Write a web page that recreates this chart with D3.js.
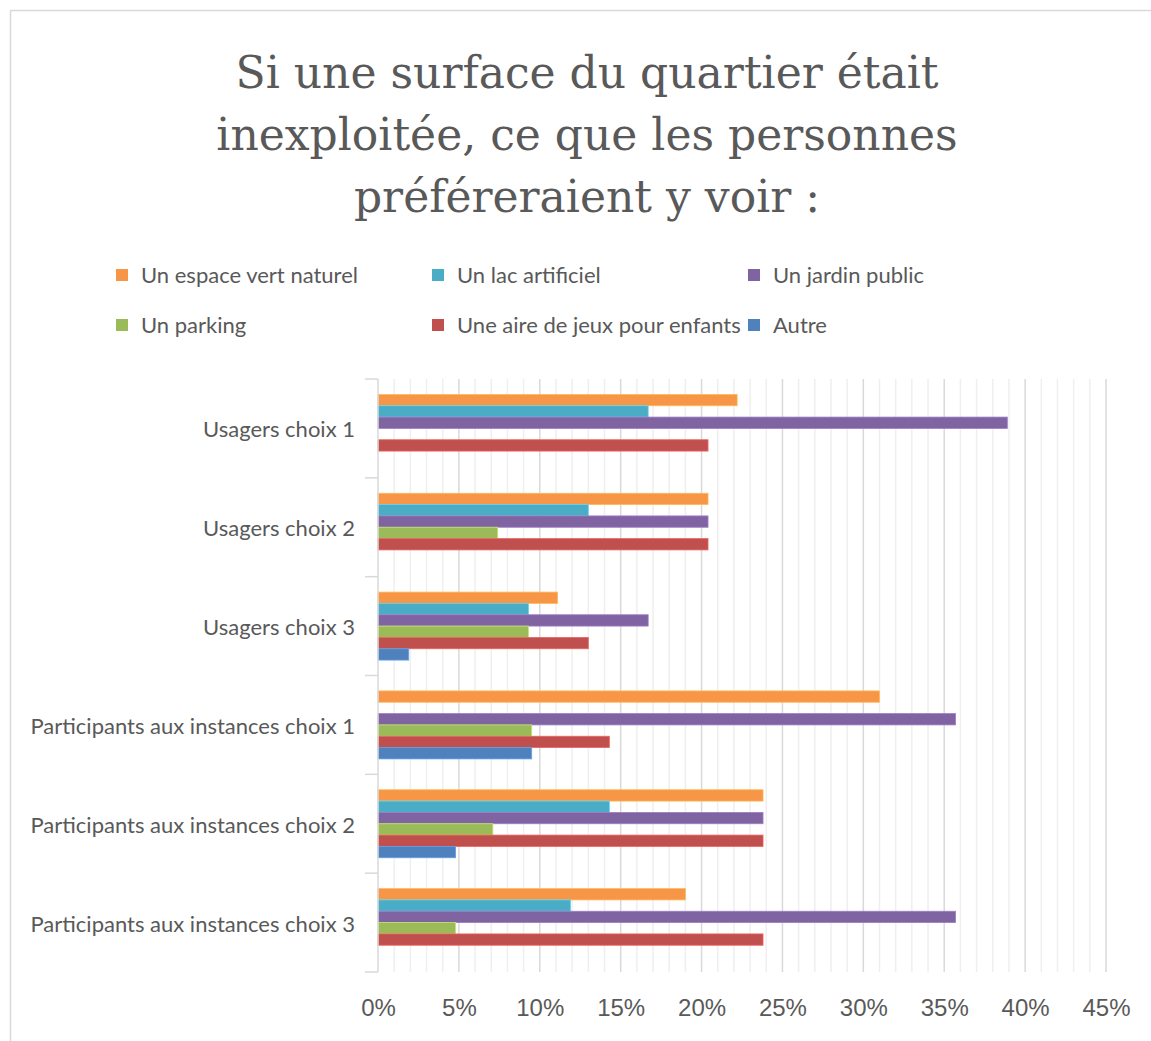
<!DOCTYPE html>
<html>
<head>
<meta charset="utf-8">
<script src="https://cdn.jsdelivr.net/npm/d3@7/dist/d3.min.js"></script>
<style>
  body { margin: 0; background: #fff; }
</style>
</head>
<body>
<svg id="chart"></svg>
<script>
let width = 1151;
let height = 1041;

let titleLines = ['Si une surface du quartier était', 'inexploitée, ce que les personnes', 'préféreraient y voir :'];
let categories = ['Usagers choix 1', 'Usagers choix 2', 'Usagers choix 3',
    'Participants aux instances choix 1', 'Participants aux instances choix 2', 'Participants aux instances choix 3'];
let seriesNames = ['Un espace vert naturel', 'Un lac artificiel', 'Un jardin public',
    'Un parking', 'Une aire de jeux pour enfants', 'Autre'];
let seriesColors = ['#F79646', '#4BACC6', '#8064A2', '#9BBB59', '#C0504D', '#4F81BD'];
// percentages, one array per category, in the order of seriesNames
let usagers1 = [22.2, 16.7, 38.9, 0, 20.4, 0];
let usagers2 = [20.4, 13.0, 20.4, 7.4, 20.4, 0];
let usagers3 = [11.1, 9.3, 16.7, 9.3, 13.0, 1.9];
let participants1 = [31.0, 0, 35.7, 9.5, 14.3, 9.5];
let participants2 = [23.8, 14.3, 23.8, 7.1, 23.8, 4.8];
let participants3 = [19.0, 11.9, 35.7, 4.8, 23.8, 0];
let xTicks = [0, 5, 10, 15, 20, 25, 30, 35, 40, 45];

let values = [usagers1, usagers2, usagers3, participants1, participants2, participants3];
let chartData = [];
categories.forEach((cat, ci) => {
    seriesNames.forEach((s, si) => {
        chartData.push({category: cat, series: s, value: values[ci][si]});
    });
});

let plot = {left: 378, right: 1106, top: 379, bottom: 972};

let svg = d3.select('#chart').attr('width', width).attr('height', height);

// frame
svg.append('rect').attr('x', 10.5).attr('y', 10.5).attr('width', width + 20).attr('height', height + 20)
    .style('fill', '#fff').style('stroke', '#d9d9d9').style('stroke-width', 1.5);

// scales
let xScale = d3.scaleLinear().domain([0, 45]).range([plot.left, plot.right]);
let yScale = d3.scaleBand().domain(categories).range([plot.top, plot.bottom]);
let innerScale = d3.scaleBand().domain(seriesNames).range([0, yScale.bandwidth()]).paddingOuter(1.36);
let colorScale = d3.scaleOrdinal().domain(seriesNames).range(seriesColors);

// gridlines: minor each 1%, major each 5%
svg.append('g').selectAll('line').data(d3.range(1, 46).filter(d => d % 5 !== 0)).enter().append('line')
    .attr('x1', d => xScale(d)).attr('x2', d => xScale(d))
    .attr('y1', plot.top).attr('y2', plot.bottom)
    .style('stroke', '#efefef').style('stroke-width', 1.5);
svg.append('g').selectAll('line').data(xTicks.slice(1)).enter().append('line')
    .attr('x1', d => xScale(d)).attr('x2', d => xScale(d))
    .attr('y1', plot.top).attr('y2', plot.bottom)
    .style('stroke', '#d9d9d9').style('stroke-width', 1.5);

// bars
svg.append('g').selectAll('rect').data(chartData.filter(d => d.value > 0)).enter().append('rect')
    .attr('x', xScale(0))
    .attr('y', d => yScale(d.category) + innerScale(d.series))
    .attr('width', d => xScale(d.value) - xScale(0))
    .attr('height', innerScale.bandwidth())
    .style('fill', d => colorScale(d.series))
    .style('stroke', d => d3.color(colorScale(d.series)).brighter(0.6))
    .style('stroke-width', 0.8);

// vertical axis
let yAxis = svg.append('g').attr('transform', 'translate(' + plot.left + ',2)')
    .call(d3.axisLeft(yScale).tickSize(0).tickPadding(23));
yAxis.select('.domain').remove();
yAxis.selectAll('text').style('font-family', 'Lato, sans-serif').style('font-size', '22px').style('fill', '#595959');
svg.append('line').attr('x1', plot.left).attr('x2', plot.left).attr('y1', plot.top).attr('y2', plot.bottom)
    .style('stroke', '#d9d9d9').style('stroke-width', 1.5);
svg.append('g').selectAll('line').data(categories.concat(['end'])).enter().append('line')
    .attr('x1', plot.left - 13).attr('x2', plot.left)
    .attr('y1', (d, i) => i < categories.length ? yScale(d) : plot.bottom)
    .attr('y2', (d, i) => i < categories.length ? yScale(d) : plot.bottom)
    .style('stroke', '#d9d9d9').style('stroke-width', 1.5);

// horizontal axis labels
let xAxis = svg.append('g').attr('transform', 'translate(0,' + plot.bottom + ')')
    .call(d3.axisBottom(xScale).tickValues(xTicks).tickSize(0).tickPadding(27).tickFormat(d => d + '%'));
xAxis.select('.domain').remove();
xAxis.selectAll('text').style('font-family', '"Liberation Sans", Arial, sans-serif').style('font-size', '24px').style('fill', '#595959');

// legend
let legendPos = [[116, 275], [432, 275], [748, 275], [116, 325], [432, 325], [748, 325]];
let legend = svg.append('g').selectAll('g').data(seriesNames).enter().append('g')
    .attr('transform', (d, i) => 'translate(' + legendPos[i][0] + ',' + legendPos[i][1] + ')');
legend.append('rect').attr('x', 0).attr('y', -6).attr('width', 12).attr('height', 12)
    .style('fill', d => colorScale(d));
legend.append('text').attr('x', 25).attr('y', 0).attr('dy', '0.35em').text(d => d)
    .style('font-family', 'Lato, sans-serif').style('font-size', '22px').style('fill', '#595959');

// title
svg.append('g').selectAll('text').data(titleLines).enter().append('text')
    .attr('x', 587).attr('y', (d, i) => 88 + i * 62)
    .text(d => d)
    .style('font-family', '"DejaVu Serif", serif').style('font-size', '44px')
    .style('fill', '#595959').style('text-anchor', 'middle');
</script>
</body>
</html>
